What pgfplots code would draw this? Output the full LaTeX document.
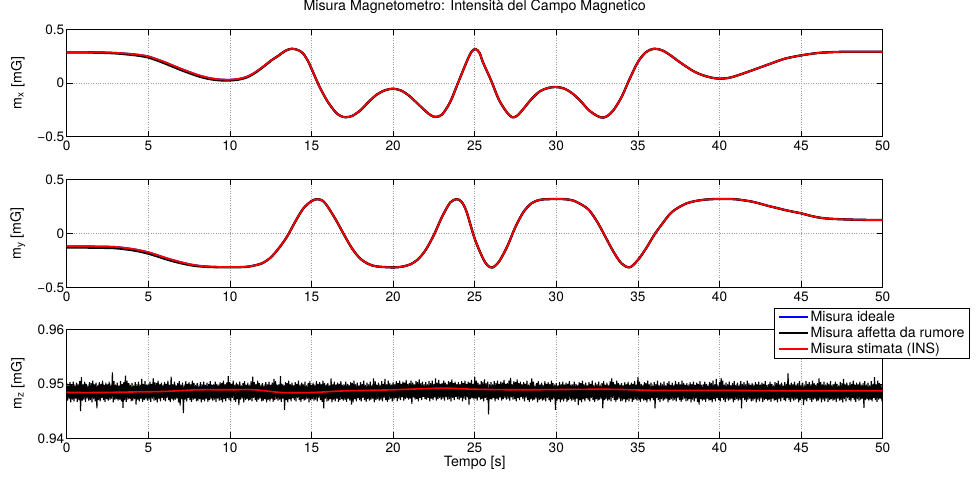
\documentclass[border=0pt]{standalone}
\usepackage{fontspec}
\setmainfont{TeX Gyre Heros}
\usepackage{pgfplots}
\usepackage{pgfplotstable}
\pgfplotsset{compat=1.18}
\newcommand{\tfs}{\fontsize{13.6}{16}\selectfont}
\newcommand{\lfs}{\fontsize{14.2}{17}\selectfont}

\pgfplotstableread{
t y
0 0.288
1 0.288
2 0.286
3 0.281
4 0.27
4.5 0.261
5 0.248
5.5 0.223
6 0.195
6.5 0.164
7 0.133
7.5 0.104
8 0.077
8.5 0.055
9 0.04
9.5 0.032
10 0.031
10.5 0.038
11 0.056
11.5 0.095
12 0.149
12.5 0.207
13 0.257
13.4 0.300
13.8 0.319
14.2 0.305
14.5 0.272
14.8 0.200
15 0.133
15.5 -0.037
16 -0.176
16.5 -0.276
16.8 -0.308
17.1 -0.319
17.5 -0.306
18 -0.254
18.5 -0.176
19 -0.108
19.5 -0.068
20 -0.053
20.5 -0.071
21 -0.121
21.5 -0.192
22 -0.263
22.3 -0.300
22.6 -0.316
23 -0.294
23.5 -0.176
24 0.009
24.5 0.195
24.8 0.290
25.05 0.316
25.3 0.280
25.5 0.195
26 0.025
26.5 -0.161
27 -0.279
27.3 -0.319
27.6 -0.305
28 -0.238
28.5 -0.146
29 -0.077
29.5 -0.046
30 -0.037
30.5 -0.053
31 -0.099
31.5 -0.170
32 -0.254
32.5 -0.306
32.8 -0.322
33.1 -0.310
33.5 -0.254
34 -0.130
34.5 0.040
35 0.195
35.5 0.288
36 0.319
36.5 0.303
37 0.257
37.5 0.201
38 0.149
38.5 0.102
39 0.071
39.5 0.050
40 0.040
40.5 0.046
41 0.065
42 0.118
43 0.173
44 0.226
45 0.257
46 0.279
47 0.288
48 0.291
50 0.291
}\mxest

\pgfplotstableread{
t y
0 0.284
1 0.284
2 0.282
3 0.276
4 0.262
4.5 0.252
5 0.238
5.5 0.212
6 0.183
6.5 0.152
7 0.121
7.5 0.093
8 0.066
8.5 0.045
9 0.031
9.5 0.024
10 0.024
10.5 0.031
11 0.050
11.5 0.090
12 0.145
12.5 0.205
}\mxmeas

\pgfplotstableread{
t y
0 -0.120
1 -0.120
2 -0.122
3 -0.126
4 -0.144
4.5 -0.158
5 -0.175
5.5 -0.199
6 -0.224
6.5 -0.247
7 -0.267
7.5 -0.285
8 -0.298
8.5 -0.306
9 -0.310
10 -0.313
11 -0.310
11.5 -0.298
12 -0.276
12.5 -0.224
13 -0.138
13.5 -0.031
14 0.107
14.5 0.230
15 0.298
15.35 0.316
15.7 0.300
16 0.245
16.5 0.123
17 -0.015
17.5 -0.144
18 -0.236
18.5 -0.285
19 -0.307
20 -0.316
20.5 -0.310
21 -0.291
21.5 -0.245
22 -0.153
22.5 -0.015
23 0.153
23.5 0.285
23.9 0.316
24.2 0.291
24.5 0.200
25 -0.050
25.5 -0.230
25.8 -0.300
26.1 -0.316
26.5 -0.260
27 -0.120
27.5 0.060
28 0.200
28.5 0.280
29 0.310
29.5 0.316
30 0.318
30.5 0.316
31 0.305
31.5 0.270
32 0.216
32.5 0.108
33 -0.030
33.5 -0.170
34 -0.280
34.5 -0.315
35 -0.247
35.5 -0.140
36 -0.015
36.5 0.090
37 0.185
37.5 0.240
38 0.278
38.5 0.298
39 0.310
39.5 0.316
40 0.318
40.5 0.318
41 0.315
41.5 0.305
42 0.293
42.5 0.274
43 0.253
43.5 0.235
44 0.216
44.5 0.200
45 0.185
45.5 0.165
46 0.148
46.5 0.138
47 0.133
48 0.127
49 0.124
50 0.123
}\myest

\pgfplotstableread{
t y
0 -0.132
1 -0.132
2 -0.134
3 -0.138
4 -0.156
4.5 -0.170
5 -0.188
5.5 -0.211
6 -0.236
6.5 -0.258
7 -0.277
7.5 -0.293
8 -0.304
8.5 -0.310
9 -0.313
10 -0.315
11 -0.311
11.5 -0.298
}\mymeas

\pgfplotstableread{
t y
0 0.9484
2 0.9484
4 0.9485
6 0.9486
8 0.9489
10 0.9489
11.5 0.9489
13.2 0.9484
15 0.9484
17 0.9487
20 0.9489
23 0.9492
25 0.9490
28 0.9489
33 0.9490
36 0.9488
40 0.9488
45 0.9487
50 0.9487
}\mzest

\pgfplotsset{
  panel/.style={
    scale only axis, width=816pt, height=108pt,
    xmin=0, xmax=50, xtick={0,5,...,50},
    anchor=south west,
    grid=major, grid style={dotted, gray!75, line width=0.6pt},
    tick align=inside, major tick length=6pt,
    every tick/.style={black, line width=0.6pt},
    axis line style={black, line width=0.8pt},
    tick label style={font=\tfs},
    /pgf/number format/assume math mode=true,
    xticklabel style={yshift=-1pt},
    yticklabel style={xshift=1pt},
    ylabel style={at={(axis description cs:-0.06,0.5)}, anchor=center, font=\lfs},
    xlabel style={font=\lfs},
    legend image code/.code={\draw[#1, line width=1.8pt] (0pt,0pt) -- (29pt,0pt);},
  }
}

\begin{document}
\begin{tikzpicture}
\useasboundingbox (0,0) rectangle (976pt,479pt);

\begin{axis}[panel, at={(66.7pt,342.3pt)}, height=107.4pt,
  ymin=-0.5, ymax=0.5, ytick={-0.5,0,0.5}, yticklabels={−0.5,0,0.5},
  ylabel={m\textsubscript{x} [mG]},
  title={Misura Magnetometro: Intensità del Campo Magnetico},
  title style={at={(axis description cs:0.5,1)}, anchor=center, yshift=16.3pt, font=\lfs}]
\addplot[blue, line width=1.8pt, smooth] table[x=t,y=y] {\mxest};
\addplot[black, line width=2.3pt, smooth] table[x=t,y=y] {\mxmeas};
\addplot[black, line width=2.3pt, smooth, restrict x to domain=12.5:50] table[x=t,y=y] {\mxest};
\addplot[red, line width=1.7pt, smooth] table[x=t,y=y] {\mxest};
\end{axis}

\begin{axis}[panel, at={(66.7pt,191.7pt)},
  ymin=-0.5, ymax=0.5, ytick={-0.5,0,0.5}, yticklabels={−0.5,0,0.5},
  ylabel={m\textsubscript{y} [mG]}]
\addplot[blue, line width=1.8pt, smooth] table[x=t,y=y] {\myest};
\addplot[black, line width=2.3pt, smooth] table[x=t,y=y] {\mymeas};
\addplot[black, line width=2.3pt, smooth, restrict x to domain=11.5:50] table[x=t,y=y] {\myest};
\addplot[red, line width=1.7pt, smooth] table[x=t,y=y] {\myest};
\end{axis}

\begin{axis}[panel, at={(66.7pt,40.7pt)}, height=109pt,
  ymin=0.94, ymax=0.96, ytick={0.94,0.95,0.96}, yticklabels={0.94,0.95,0.96},
  ylabel={m\textsubscript{z} [mG]},
  xlabel={Tempo [s]},
  xlabel style={at={(axis description cs:0.5,-0.227)}, anchor=center},
  legend style={at={(axis description cs:0.8672,1.198)}, anchor=north west,
    font=\lfs, draw=black, line width=0.8pt, inner xsep=3pt, inner ysep=1pt,
    row sep=0pt, cells={anchor=west}},
  legend cell align=left]
\addplot[blue, line width=1.6pt, smooth] table[x=t,y=y] {\mzest};
\addlegendentry{Misura ideale}
\addplot[black, line width=1.1pt, line join=bevel] table[row sep=\\, header=false, x expr=\coordindex*0.05, y index=0] {
0.9501\\0.9469\\0.9497\\0.9472\\0.9503\\0.9466\\0.9499\\0.9471\\0.9504\\0.9468\\0.9498\\0.9473\\0.9502\\0.9467\\0.9500\\0.9470\\0.9505\\0.9450\\0.9512\\0.9469\\
0.9499\\0.9471\\0.9504\\0.9467\\0.9500\\0.9473\\0.9497\\0.9469\\0.9503\\0.9470\\0.9501\\0.9466\\0.9506\\0.9472\\0.9499\\0.9468\\0.9502\\0.9455\\0.9497\\0.9470\\
0.9503\\0.9468\\0.9500\\0.9474\\0.9506\\0.9470\\0.9498\\0.9467\\0.9502\\0.9472\\0.9499\\0.9469\\0.9504\\0.9471\\0.9497\\0.9473\\0.9521\\0.9466\\0.9505\\0.9470\\
0.9498\\0.9472\\0.9502\\0.9469\\0.9497\\0.9471\\0.9505\\0.9468\\0.9500\\0.9456\\0.9503\\0.9470\\0.9515\\0.9467\\0.9506\\0.9471\\0.9501\\0.9473\\0.9498\\0.9468\\
0.9501\\0.9469\\0.9497\\0.9472\\0.9503\\0.9462\\0.9499\\0.9471\\0.9504\\0.9468\\0.9498\\0.9473\\0.9509\\0.9467\\0.9500\\0.9470\\0.9505\\0.9472\\0.9498\\0.9469\\
0.9499\\0.9471\\0.9504\\0.9467\\0.9500\\0.9473\\0.9510\\0.9469\\0.9503\\0.9470\\0.9501\\0.9466\\0.9506\\0.9472\\0.9499\\0.9468\\0.9502\\0.9474\\0.9497\\0.9470\\
0.9503\\0.9468\\0.9500\\0.9474\\0.9506\\0.9470\\0.9498\\0.9467\\0.9513\\0.9472\\0.9499\\0.9469\\0.9504\\0.9471\\0.9497\\0.9473\\0.9501\\0.9466\\0.9505\\0.9460\\
0.9498\\0.9472\\0.9502\\0.9446\\0.9497\\0.9471\\0.9505\\0.9468\\0.9500\\0.9474\\0.9503\\0.9470\\0.9499\\0.9467\\0.9506\\0.9471\\0.9501\\0.9473\\0.9498\\0.9468\\
0.9501\\0.9469\\0.9497\\0.9472\\0.9503\\0.9466\\0.9499\\0.9471\\0.9504\\0.9468\\0.9498\\0.9473\\0.9502\\0.9467\\0.9500\\0.9470\\0.9505\\0.9472\\0.9498\\0.9469\\
0.9499\\0.9471\\0.9504\\0.9467\\0.9500\\0.9473\\0.9497\\0.9469\\0.9503\\0.9470\\0.9501\\0.9466\\0.9506\\0.9472\\0.9499\\0.9468\\0.9502\\0.9474\\0.9514\\0.9470\\
0.9503\\0.9468\\0.9500\\0.9474\\0.9506\\0.9470\\0.9498\\0.9467\\0.9502\\0.9472\\0.9499\\0.9461\\0.9504\\0.9471\\0.9497\\0.9473\\0.9501\\0.9466\\0.9505\\0.9470\\
0.9498\\0.9472\\0.9502\\0.9469\\0.9497\\0.9471\\0.9505\\0.9468\\0.9513\\0.9474\\0.9503\\0.9470\\0.9499\\0.9467\\0.9506\\0.9471\\0.9501\\0.9473\\0.9498\\0.9468\\
0.9501\\0.9469\\0.9497\\0.9472\\0.9503\\0.9466\\0.9499\\0.9471\\0.9504\\0.9468\\0.9498\\0.9473\\0.9502\\0.9467\\0.9509\\0.9470\\0.9505\\0.9472\\0.9498\\0.9469\\
0.9499\\0.9471\\0.9514\\0.9467\\0.9500\\0.9473\\0.9497\\0.9452\\0.9503\\0.9470\\0.9501\\0.9466\\0.9506\\0.9472\\0.9499\\0.9468\\0.9502\\0.9474\\0.9497\\0.9470\\
0.9503\\0.9468\\0.9500\\0.9474\\0.9506\\0.9470\\0.9498\\0.9467\\0.9502\\0.9472\\0.9499\\0.9469\\0.9504\\0.9471\\0.9497\\0.9473\\0.9501\\0.9466\\0.9505\\0.9470\\
0.9498\\0.9472\\0.9502\\0.9469\\0.9497\\0.9471\\0.9505\\0.9468\\0.9500\\0.9474\\0.9503\\0.9470\\0.9499\\0.9467\\0.9506\\0.9455\\0.9501\\0.9473\\0.9498\\0.9468\\
0.9501\\0.9469\\0.9497\\0.9472\\0.9510\\0.9466\\0.9499\\0.9471\\0.9504\\0.9468\\0.9498\\0.9473\\0.9502\\0.9467\\0.9500\\0.9470\\0.9505\\0.9472\\0.9498\\0.9469\\
0.9499\\0.9471\\0.9504\\0.9467\\0.9500\\0.9473\\0.9497\\0.9469\\0.9503\\0.9462\\0.9501\\0.9466\\0.9506\\0.9472\\0.9499\\0.9468\\0.9502\\0.9474\\0.9497\\0.9470\\
0.9503\\0.9468\\0.9500\\0.9474\\0.9506\\0.9470\\0.9498\\0.9467\\0.9502\\0.9472\\0.9499\\0.9469\\0.9504\\0.9471\\0.9497\\0.9473\\0.9510\\0.9466\\0.9505\\0.9470\\
0.9498\\0.9472\\0.9502\\0.9469\\0.9497\\0.9471\\0.9505\\0.9468\\0.9500\\0.9474\\0.9509\\0.9470\\0.9499\\0.9467\\0.9506\\0.9471\\0.9501\\0.9473\\0.9498\\0.9468\\
0.9503\\0.9471\\0.9499\\0.9474\\0.9505\\0.9468\\0.9501\\0.9473\\0.9506\\0.9470\\0.9500\\0.9475\\0.9504\\0.9469\\0.9502\\0.9472\\0.9507\\0.9474\\0.9500\\0.9471\\
0.9501\\0.9473\\0.9506\\0.9463\\0.9502\\0.9475\\0.9499\\0.9471\\0.9505\\0.9472\\0.9503\\0.9468\\0.9508\\0.9474\\0.9501\\0.9470\\0.9504\\0.9476\\0.9499\\0.9472\\
0.9503\\0.9471\\0.9499\\0.9474\\0.9505\\0.9468\\0.9501\\0.9473\\0.9506\\0.9470\\0.9500\\0.9475\\0.9510\\0.9469\\0.9502\\0.9472\\0.9507\\0.9474\\0.9500\\0.9471\\
0.9501\\0.9473\\0.9506\\0.9469\\0.9502\\0.9475\\0.9499\\0.9471\\0.9505\\0.9472\\0.9503\\0.9468\\0.9508\\0.9474\\0.9501\\0.9470\\0.9504\\0.9476\\0.9499\\0.9472\\
0.9503\\0.9471\\0.9499\\0.9474\\0.9505\\0.9468\\0.9501\\0.9473\\0.9506\\0.9470\\0.9500\\0.9475\\0.9504\\0.9462\\0.9502\\0.9472\\0.9507\\0.9474\\0.9500\\0.9471\\
0.9512\\0.9473\\0.9506\\0.9469\\0.9502\\0.9475\\0.9499\\0.9471\\0.9505\\0.9472\\0.9503\\0.9468\\0.9508\\0.9474\\0.9501\\0.9470\\0.9504\\0.9444\\0.9499\\0.9472\\
0.9503\\0.9471\\0.9499\\0.9474\\0.9505\\0.9468\\0.9501\\0.9473\\0.9506\\0.9470\\0.9500\\0.9475\\0.9504\\0.9469\\0.9502\\0.9472\\0.9507\\0.9474\\0.9500\\0.9471\\
0.9501\\0.9473\\0.9506\\0.9469\\0.9511\\0.9475\\0.9499\\0.9471\\0.9505\\0.9472\\0.9503\\0.9468\\0.9508\\0.9474\\0.9501\\0.9470\\0.9504\\0.9476\\0.9499\\0.9472\\
0.9503\\0.9468\\0.9500\\0.9474\\0.9506\\0.9470\\0.9498\\0.9467\\0.9502\\0.9472\\0.9510\\0.9469\\0.9504\\0.9471\\0.9497\\0.9473\\0.9501\\0.9466\\0.9505\\0.9470\\
0.9498\\0.9472\\0.9502\\0.9469\\0.9497\\0.9471\\0.9505\\0.9468\\0.9500\\0.9474\\0.9503\\0.9470\\0.9499\\0.9467\\0.9506\\0.9471\\0.9501\\0.9473\\0.9498\\0.9452\\
0.9501\\0.9469\\0.9497\\0.9472\\0.9503\\0.9466\\0.9499\\0.9471\\0.9504\\0.9468\\0.9498\\0.9473\\0.9502\\0.9467\\0.9500\\0.9470\\0.9505\\0.9472\\0.9498\\0.9469\\
0.9499\\0.9471\\0.9504\\0.9467\\0.9500\\0.9473\\0.9497\\0.9461\\0.9503\\0.9470\\0.9501\\0.9466\\0.9506\\0.9472\\0.9499\\0.9468\\0.9502\\0.9474\\0.9497\\0.9470\\
0.9503\\0.9468\\0.9500\\0.9474\\0.9506\\0.9470\\0.9498\\0.9467\\0.9502\\0.9472\\0.9499\\0.9469\\0.9504\\0.9471\\0.9497\\0.9473\\0.9501\\0.9455\\0.9505\\0.9470\\
0.9498\\0.9472\\0.9502\\0.9469\\0.9497\\0.9471\\0.9505\\0.9468\\0.9510\\0.9474\\0.9503\\0.9470\\0.9499\\0.9467\\0.9506\\0.9471\\0.9501\\0.9473\\0.9498\\0.9468\\
0.9501\\0.9469\\0.9497\\0.9472\\0.9503\\0.9466\\0.9499\\0.9471\\0.9504\\0.9468\\0.9498\\0.9473\\0.9502\\0.9467\\0.9500\\0.9470\\0.9505\\0.9472\\0.9498\\0.9469\\
0.9512\\0.9471\\0.9504\\0.9467\\0.9500\\0.9473\\0.9497\\0.9469\\0.9503\\0.9470\\0.9501\\0.9466\\0.9506\\0.9472\\0.9499\\0.9468\\0.9502\\0.9474\\0.9497\\0.9470\\
0.9503\\0.9455\\0.9500\\0.9474\\0.9506\\0.9470\\0.9498\\0.9467\\0.9502\\0.9472\\0.9499\\0.9469\\0.9504\\0.9471\\0.9497\\0.9473\\0.9501\\0.9466\\0.9505\\0.9470\\
0.9498\\0.9472\\0.9502\\0.9469\\0.9497\\0.9471\\0.9505\\0.9468\\0.9500\\0.9474\\0.9503\\0.9470\\0.9499\\0.9467\\0.9506\\0.9471\\0.9501\\0.9473\\0.9498\\0.9468\\
0.9501\\0.9469\\0.9497\\0.9472\\0.9503\\0.9466\\0.9499\\0.9471\\0.9504\\0.9468\\0.9498\\0.9473\\0.9502\\0.9467\\0.9500\\0.9462\\0.9505\\0.9472\\0.9498\\0.9469\\
0.9499\\0.9471\\0.9504\\0.9467\\0.9500\\0.9473\\0.9497\\0.9469\\0.9503\\0.9470\\0.9501\\0.9466\\0.9506\\0.9472\\0.9499\\0.9468\\0.9509\\0.9474\\0.9497\\0.9470\\
0.9503\\0.9468\\0.9511\\0.9474\\0.9506\\0.9470\\0.9498\\0.9467\\0.9502\\0.9472\\0.9499\\0.9469\\0.9504\\0.9471\\0.9497\\0.9473\\0.9501\\0.9466\\0.9505\\0.9470\\
0.9498\\0.9472\\0.9502\\0.9469\\0.9497\\0.9471\\0.9505\\0.9455\\0.9500\\0.9474\\0.9503\\0.9470\\0.9499\\0.9467\\0.9506\\0.9471\\0.9501\\0.9473\\0.9498\\0.9468\\
0.9501\\0.9469\\0.9497\\0.9472\\0.9503\\0.9466\\0.9499\\0.9471\\0.9504\\0.9468\\0.9498\\0.9473\\0.9502\\0.9467\\0.9500\\0.9470\\0.9505\\0.9472\\0.9498\\0.9469\\
0.9499\\0.9471\\0.9504\\0.9467\\0.9500\\0.9473\\0.9497\\0.9469\\0.9503\\0.9470\\0.9501\\0.9466\\0.9506\\0.9472\\0.9499\\0.9468\\0.9502\\0.9474\\0.9497\\0.9470\\
0.9503\\0.9468\\0.9500\\0.9474\\0.9519\\0.9470\\0.9498\\0.9467\\0.9502\\0.9472\\0.9499\\0.9469\\0.9504\\0.9471\\0.9497\\0.9473\\0.9501\\0.9466\\0.9505\\0.9470\\
0.9498\\0.9472\\0.9502\\0.9461\\0.9497\\0.9471\\0.9505\\0.9468\\0.9500\\0.9474\\0.9503\\0.9470\\0.9499\\0.9467\\0.9506\\0.9471\\0.9501\\0.9473\\0.9498\\0.9468\\
0.9501\\0.9469\\0.9510\\0.9472\\0.9503\\0.9466\\0.9499\\0.9471\\0.9504\\0.9468\\0.9498\\0.9473\\0.9502\\0.9467\\0.9500\\0.9470\\0.9505\\0.9472\\0.9498\\0.9469\\
0.9499\\0.9471\\0.9504\\0.9467\\0.9500\\0.9473\\0.9497\\0.9469\\0.9503\\0.9470\\0.9501\\0.9466\\0.9509\\0.9472\\0.9499\\0.9468\\0.9502\\0.9474\\0.9497\\0.9470\\
0.9503\\0.9468\\0.9500\\0.9474\\0.9506\\0.9470\\0.9498\\0.9467\\0.9502\\0.9472\\0.9499\\0.9469\\0.9504\\0.9471\\0.9497\\0.9473\\0.9501\\0.9456\\0.9505\\0.9470\\
0.9498\\0.9472\\0.9502\\0.9469\\0.9497\\0.9471\\0.9505\\0.9468\\0.9500\\0.9474\\0.9512\\0.9470\\0.9499\\0.9467\\0.9506\\0.9471\\0.9501\\0.9473\\0.9498\\0.9468\\
0.9497\\
};
\addlegendentry{Misura affetta da rumore}
\addplot[red, line width=1.6pt, smooth] table[x=t,y=y] {\mzest};
\addlegendentry{Misura stimata (INS)}
\end{axis}
\end{tikzpicture}
\end{document}
